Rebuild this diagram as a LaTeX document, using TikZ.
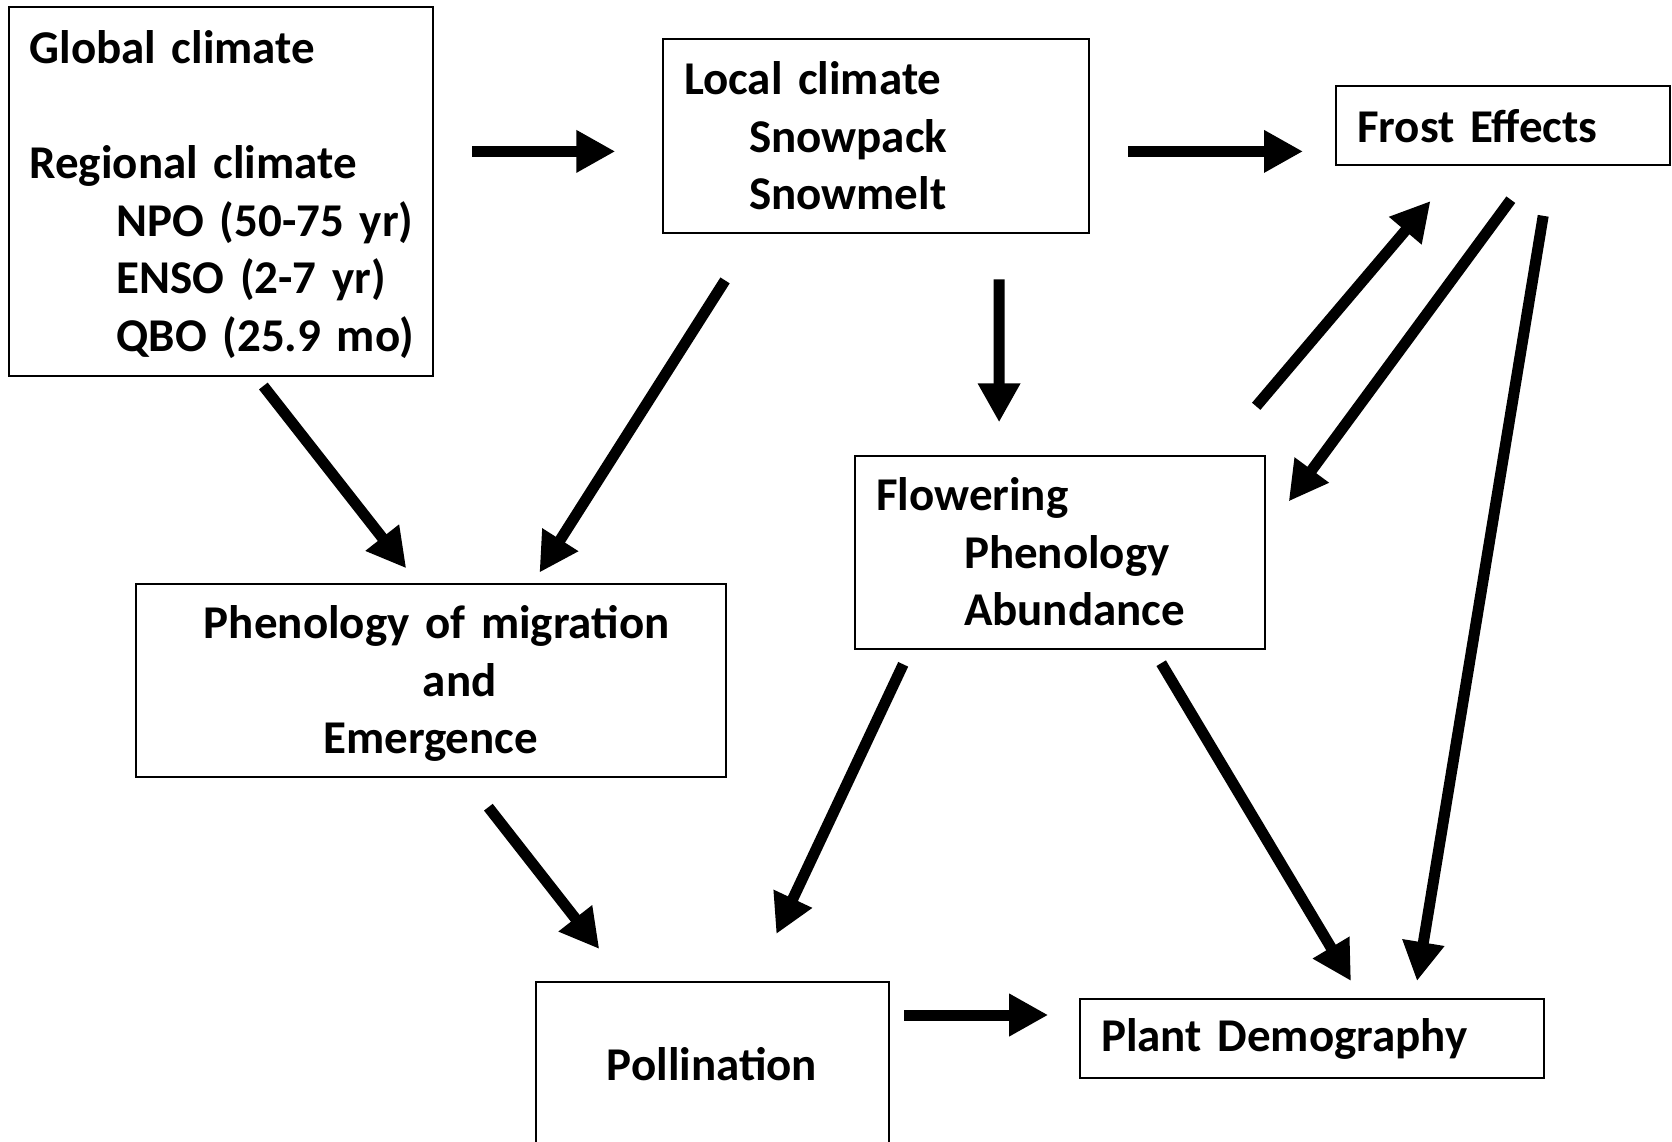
\documentclass[tikz,border=0pt]{standalone}
\usepackage{fontspec}
\setmainfont{Carlito}
\usetikzlibrary{arrows.meta,calc}
\begin{document}
\begin{tikzpicture}[x=1pt,y=-1pt,
	box/.style={draw,line width=2pt,anchor=north west,inner xsep=21pt,inner ysep=0pt,outer sep=0pt,align=left,font=\fontsize{47}{57.6}\selectfont\bfseries},
	arr/.style={line width=11pt,-{Triangle[length=39pt,width=40pt]}}]
	\useasboundingbox (0,0) rectangle (1672,1142);
	\clip (0,0) rectangle (1672,1142);
	\node[box,text width=382.5pt,minimum height=368pt] (global) at (8.5,7.5) {\rule{0pt}{39pt}Global climate\\[57.6pt]Regional climate\\\mbox{\hspace*{87pt}NPO (50-75 yr)}\\\mbox{\hspace*{87pt}ENSO (2-7 yr)}\\\mbox{\hspace*{87pt}QBO (25.9 mo)}};
	\node[box,text width=383.5pt,minimum height=193pt] (local) at (663,39.5) {Local climate\\\hspace*{65pt}Snowpack\\\hspace*{65pt}Snowmelt};
	\node[box,text width=292pt,minimum height=79pt] (frost) at (1336,86.5) {Frost Effects};
	\node[box,text width=368pt,minimum height=193pt] (flower) at (855,455.5) {Flowering\\\hspace*{88pt}Phenology\\\hspace*{88pt}Abundance};
	\node[box,text width=548.5pt,minimum height=193pt,align=center] (migr) at (135.5,583.5) {\rule{0pt}{40pt}\hspace*{12pt}Phenology of migration\\\hspace*{58pt}and\\Emergence};
	\node[box,text width=311pt,minimum height=164pt,align=center] (pollin) at (535.5,982) {Pollination};
	\node[box,text width=422pt,minimum height=79pt] (demog) at (1080,999) {Plant Demography};
	\draw[arr] ($(global.east)+(39.4,-40.1)$) -- ($(local.west)+(-47.7,15.4)$);
	\draw[arr] ($(local.east)+(39.5,15.4)$) -- ($(frost.west)+(-33,25.4)$);
	\draw[arr] ($(global.south)+(42.6,10.5)$) -- ($(migr.north)+(-24.5,-15.2)$);
	\draw[arr] ($(local.south)+(-150.7,47.9)$) -- ($(migr.north)+(108.7,-10.9)$);
	\draw[arr] ($(local.south)+(123.3,46.9)$) -- ($(flower.north)+(-60.9,-33.2)$);
	\draw[arr] ($(flower.north east)+(-8.8,-49.2)$) -- ($(frost.south)+(-72.5,35.5)$);
	\draw[arr] ($(frost.south)+(7.8,34.2)$) -- ($(flower.north east)+(23.7,45.9)$);
	\draw[arr] ($(frost.south)+(40.2,50.3)$) -- ($(demog.north)+(105,-18)$);
	\draw[arr] ($(migr.south)+(57.6,30.7)$) -- ($(pollin.north)+(-112.7,-33)$);
	\draw[arr] ($(flower.south)+(-156.8,15.8)$) -- ($(pollin.north)+(64.3,-48)$);
	\draw[arr] ($(flower.south)+(101.2,14.7)$) -- ($(demog.north)+(39,-18)$);
	\draw[arr] ($(pollin.east)+(15.7,-49)$) -- ($(demog.west)+(-31.8,-23.5)$);
\end{tikzpicture}
\end{document}
